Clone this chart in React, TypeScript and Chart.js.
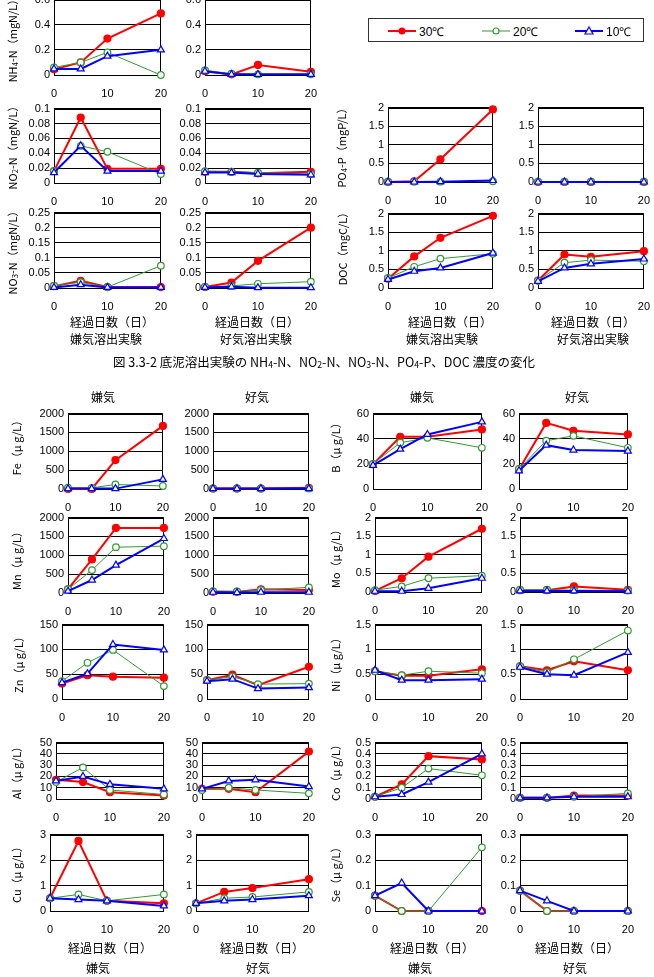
import React, { useEffect, useRef } from "react";
import { Chart, registerables } from "chart.js";

Chart.register(...registerables);

// ---------- data ----------
const days = [0, 5, 10, 20];
const dayTicks = [0, 10, 20];
const seriesNames = ["30℃", "20℃", "10℃"];

// each array: [30℃ series, 20℃ series, 10℃ series]
const nh4Ana = [[0.045, 0.1, 0.29, 0.49], [0.06, 0.1, 0.18, 0.0], [0.048, 0.048, 0.15, 0.2]];
const nh4Aer = [[0.03, 0.005, 0.08, 0.025], [0.038, 0.01, 0.005, 0.005], [0.03, 0.005, 0.005, 0.005]];
const no2Ana = [[0.016, 0.088, 0.019, 0.019], [0.016, 0.05, 0.042, 0.012], [0.014, 0.05, 0.016, 0.016]];
const no2Aer = [[0.015, 0.015, 0.013, 0.015], [0.016, 0.015, 0.014, 0.012], [0.014, 0.014, 0.012, 0.011]];
const no3Ana = [[0.006, 0.024, 0.003, 0.003], [0.008, 0.019, 0.003, 0.074], [0.002, 0.011, 0.002, 0.002]];
const no3Aer = [[0.003, 0.018, 0.09, 0.2], [0.004, 0.007, 0.014, 0.021], [0.002, 0.004, 0.001, 0.001]];
const po4Ana = [[0.0, 0.02, 0.61, 1.95], [0.01, 0.01, 0.01, 0.02], [0.0, 0.0, 0.01, 0.04]];
const po4Aer = [[0.0, 0.0, 0.0, 0.0], [0.01, 0.01, 0.01, 0.01], [0.0, 0.0, 0.0, 0.0]];
const docAna = [[0.25, 0.85, 1.35, 1.94], [0.27, 0.57, 0.79, 0.92], [0.23, 0.45, 0.54, 0.94]];
const docAer = [[0.2, 0.9, 0.84, 0.99], [0.2, 0.68, 0.75, 0.72], [0.18, 0.54, 0.65, 0.78]];

const feAna = [[0, 0, 766, 1674], [35, 30, 120, 80], [10, 10, 10, 255]];
const feAer = [[10, 10, 10, 30], [15, 15, 15, 15], [10, 10, 10, 10]];
const bAna = [[19.6, 41.5, 41.5, 47.4], [20, 36.8, 40.7, 32.8], [18.8, 31.7, 43.4, 53.4]];
const bAer = [[15.6, 52.6, 46.3, 43.4], [16, 38.4, 42.3, 32.8], [14.5, 34.9, 31, 30.2]];
const mnAna = [[100, 890, 1727, 1727], [100, 608, 1216, 1242], [50, 344, 740, 1445]];
const mnAer = [[30, 30, 100, 80], [50, 40, 80, 150], [20, 10, 20, 20]];
const moAna = [[0.03, 0.37, 0.95, 1.7], [0.05, 0.15, 0.37, 0.44], [0.02, 0.02, 0.1, 0.37]];
const moAer = [[0.05, 0.05, 0.15, 0.06], [0.06, 0.06, 0.05, 0.04], [0.03, 0.03, 0.03, 0.02]];
const znAna = [[31, 48, 45, 43], [36, 73, 99, 26], [33, 51, 110, 99]];
const znAer = [[38, 49, 28, 65], [38, 45, 30, 31], [36, 40, 21, 23]];
const niAna = [[0.56, 0.47, 0.47, 0.6], [0.56, 0.48, 0.56, 0.52], [0.58, 0.38, 0.38, 0.4]];
const niAer = [[0.66, 0.58, 0.76, 0.58], [0.66, 0.54, 0.8, 1.38], [0.64, 0.5, 0.48, 0.94]];
const alAna = [[17, 15, 6, 3], [15, 28, 8, 4], [16, 20, 13, 9]];
const alAer = [[9, 9, 6, 42], [8, 10, 8, 5], [9, 16, 17, 11]];
const coAna = [[0.02, 0.13, 0.38, 0.35], [0.02, 0.1, 0.27, 0.21], [0.02, 0.04, 0.15, 0.4]];
const coAer = [[0.01, 0.01, 0.03, 0.03], [0.01, 0.01, 0.02, 0.05], [0.01, 0.01, 0.02, 0.02]];
const cuAna = [[0.5, 2.75, 0.4, 0.3], [0.5, 0.65, 0.4, 0.65], [0.5, 0.45, 0.4, 0.2]];
const cuAer = [[0.3, 0.75, 0.9, 1.25], [0.3, 0.5, 0.55, 0.75], [0.3, 0.4, 0.45, 0.6]];
const seAna = [[0.06, 0, 0, 0], [0.06, 0, 0, 0.25], [0.06, 0.11, 0, 0]];
const seAer = [[0.08, 0, 0, 0], [0.08, 0, 0, 0], [0.08, 0.04, 0, 0]];

// y tick values
const nh4Ticks = [0, 0.2, 0.4, 0.6];
const no2Ticks = [0, 0.02, 0.04, 0.06, 0.08, 0.1];
const no3Ticks = [0, 0.05, 0.1, 0.15, 0.2, 0.25];
const po4Ticks = [0, 0.5, 1, 1.5, 2];
const docTicks = [0, 0.5, 1, 1.5, 2];
const feTicks = [0, 500, 1000, 1500, 2000];
const bTicks = [0, 20, 40, 60];
const mnTicks = [0, 500, 1000, 1500, 2000];
const moTicks = [0, 0.5, 1, 1.5, 2];
const znTicks = [0, 50, 100, 150];
const niTicks = [0, 0.5, 1, 1.5];
const alTicks = [0, 10, 20, 30, 40, 50];
const coTicks = [0, 0.1, 0.2, 0.3, 0.4, 0.5];
const cuTicks = [0, 1, 2, 3];
const seTicks = [0, 0.1, 0.2, 0.3];

// ---------- layout (plot-area rectangles: left, top, right, bottom) ----------
const panels = [
  { d: nh4Ana, t: nh4Ticks, r: [54, -1, 165, 75] },
  { d: nh4Aer, t: nh4Ticks, r: [205, -1, 315, 75] },
  { d: no2Ana, t: no2Ticks, r: [54, 108, 165, 183] },
  { d: no2Aer, t: no2Ticks, r: [205, 108, 315, 183] },
  { d: po4Ana, t: po4Ticks, r: [388, 107, 497, 182] },
  { d: po4Aer, t: po4Ticks, r: [538, 107, 648, 182] },
  { d: no3Ana, t: no3Ticks, r: [54, 212, 165, 288] },
  { d: no3Aer, t: no3Ticks, r: [205, 212, 315, 288] },
  { d: docAna, t: docTicks, r: [388, 213, 497, 288] },
  { d: docAer, t: docTicks, r: [538, 213, 648, 288] },

  { d: feAna, t: feTicks, r: [68, 413, 167, 489] },
  { d: feAer, t: feTicks, r: [213, 413, 313, 489] },
  { d: bAna, t: bTicks, r: [373, 413, 486, 489] },
  { d: bAer, t: bTicks, r: [519, 413, 632, 489] },
  { d: mnAna, t: mnTicks, r: [68, 517, 168, 593] },
  { d: mnAer, t: mnTicks, r: [213, 517, 313, 593] },
  { d: moAna, t: moTicks, r: [375, 517, 486, 592] },
  { d: moAer, t: moTicks, r: [520, 517, 632, 592] },
  { d: znAna, t: znTicks, r: [62, 624, 168, 699] },
  { d: znAer, t: znTicks, r: [207, 624, 313, 699] },
  { d: niAna, t: niTicks, r: [375, 624, 486, 699] },
  { d: niAer, t: niTicks, r: [520, 624, 632, 699] },
  { d: alAna, t: alTicks, r: [56, 742, 168, 799] },
  { d: alAer, t: alTicks, r: [202, 742, 313, 799] },
  { d: coAna, t: coTicks, r: [375, 742, 486, 799] },
  { d: coAer, t: coTicks, r: [520, 742, 632, 799] },
  { d: cuAna, t: cuTicks, r: [50, 834, 168, 911] },
  { d: cuAer, t: cuTicks, r: [196, 834, 313, 911] },
  { d: seAna, t: seTicks, r: [375, 834, 486, 911] },
  { d: seAer, t: seTicks, r: [520, 834, 632, 911] },
];

const PADL = 50;
const PADT = 10;
const PADR = 14;
const PADB = 32;

const RED = "#ff0000";
const GREEN = "#339933";
const BLUE = "#0000ff";
const TICK_FONT = { family: "'Liberation Sans', Arial, sans-serif", size: 11 };
const JP = "'Noto Sans CJK JP', 'Noto Sans', sans-serif";

const styles = [
  { color: RED, width: 2, fill: RED, point: "circle", radius: 3.5, order: 2 },
  { color: GREEN, width: 1, fill: "#ffffff", point: "circle", radius: 3.3, order: 1 },
  { color: BLUE, width: 2, fill: "#ffffff", point: "triangle", radius: 4, order: 0 },
];

const borderPlugin = {
  id: "plotBorder",
  beforeDatasetsDraw(chart: any) {
    const { ctx, chartArea } = chart;
    ctx.save();
    ctx.strokeStyle = "#000";
    ctx.lineWidth = 1;
    ctx.strokeRect(
      Math.round(chartArea.left) + 0.5,
      Math.round(chartArea.top) + 0.5,
      Math.round(chartArea.right - chartArea.left) - 1,
      Math.round(chartArea.bottom - chartArea.top)
    );
    ctx.restore();
  },
};

function Panel({ d, t, r }: { d: number[][]; t: number[]; r: number[] }) {
  const ref = useRef<HTMLCanvasElement | null>(null);
  const [l, top, right, bottom] = r;
  const w = right - l + PADL + PADR;
  const h = bottom - top + PADT + PADB;
  useEffect(() => {
    if (!ref.current) return;
    const chart = new Chart(ref.current, {
      type: "line",
      data: {
        datasets: d.map((vals, i) => ({
          label: seriesNames[i],
          data: vals.map((v, j) => ({ x: days[j], y: v })),
          borderColor: styles[i].color,
          borderWidth: styles[i].width,
          pointStyle: styles[i].point,
          pointRadius: styles[i].radius,
          pointBackgroundColor: styles[i].fill,
          pointBorderColor: styles[i].color,
          pointBorderWidth: 1.2,
          tension: 0,
          clip: false,
          order: styles[i].order,
        })),
      },
      options: {
        animation: false,
        responsive: false,
        devicePixelRatio: 1,
        layout: { padding: { left: 0, top: PADT, right: PADR, bottom: 0 } },
        plugins: { legend: { display: false }, tooltip: { enabled: false } },
        scales: {
          x: {
            type: "linear",
            min: 0,
            max: 20,
            afterBuildTicks: (s: any) => {
              s.ticks = dayTicks.map((v) => ({ value: v }));
            },
            afterFit: (s: any) => {
              s.height = PADB;
            },
            grid: { display: false, drawTicks: false },
            border: { display: false },
            ticks: {
              padding: 12,
              color: "#000",
              font: TICK_FONT,
              maxRotation: 0,
              autoSkip: false,
              callback: (v: any) => String(v),
            },
          },
          y: {
            type: "linear",
            min: t[0],
            max: t[t.length - 1],
            afterBuildTicks: (s: any) => {
              s.ticks = t.map((v) => ({ value: v }));
            },
            afterFit: (s: any) => {
              s.width = PADL;
            },
            grid: { color: "#000", lineWidth: 1, drawTicks: false },
            border: { display: false },
            ticks: {
              padding: 4,
              color: "#000",
              font: TICK_FONT,
              autoSkip: false,
              callback: (v: any) => String(v),
            },
          },
        },
      },
      plugins: [borderPlugin],
    } as any);
    return () => chart.destroy();
  }, []);
  return (
    <canvas
      ref={ref}
      width={w}
      height={h}
      style={{ position: "absolute", left: l - PADL, top: top - PADT, width: w, height: h }}
    />
  );
}

function Txt({ x, y, size = 11, rot = false, children }: any) {
  return (
    <div
      style={{
        position: "absolute",
        left: x,
        top: y,
        transform: `translate(-50%, -50%)${rot ? " rotate(-90deg)" : ""}`,
        whiteSpace: "nowrap",
        fontFamily: JP,
        fontSize: size,
        color: "#000",
        lineHeight: 1,
      }}
    >
      {children}
    </div>
  );
}

const subS = { fontSize: "0.7em", verticalAlign: "-0.15em" } as any;

function LegendItem({ x, color, width, kind, label }: any) {
  return (
    <div style={{ position: "absolute", left: x, top: 0, height: 24, display: "flex", alignItems: "center" }}>
      <svg width={28} height={12} style={{ display: "block" }}>
        <line x1={0} y1={6} x2={28} y2={6} stroke={color} strokeWidth={width} />
        {kind === "fill" && <circle cx={14} cy={6} r={3.5} fill={color} />}
        {kind === "circle" && <circle cx={14} cy={6} r={3} fill="#fff" stroke={color} strokeWidth={1.2} />}
        {kind === "tri" && <polygon points="14,2 18,9 10,9" fill="#fff" stroke={color} strokeWidth={1.2} />}
      </svg>
      <span style={{ marginLeft: 3, fontFamily: TICK_FONT.family, fontSize: 12, color: "#000" }}>{label}</span>
    </div>
  );
}

export default function App() {
  return (
    <div style={{ position: "absolute", left: 0, top: 0, width: 654, height: 977, overflow: "hidden", background: "#fff" }}>
      {panels.map((p, i) => (
        <Panel key={i} d={p.d} t={p.t} r={p.r} />
      ))}

      {/* legend */}
      <div style={{ position: "absolute", left: 368, top: 18, width: 276, height: 24, border: "1px solid #333", boxSizing: "border-box" }}>
        <LegendItem x={19} color={RED} width={2} kind="fill" label={seriesNames[0]} />
        <LegendItem x={113} color={GREEN} width={1} kind="circle" label={seriesNames[1]} />
        <LegendItem x={206} color={BLUE} width={2} kind="tri" label={seriesNames[2]} />
      </div>

      {/* top figure y titles */}
      <Txt x={13} y={38} rot>NH<span style={subS}>4</span>-N（mgN/L）</Txt>
      <Txt x={13} y={145} rot>NO<span style={subS}>2</span>-N（mgN/L）</Txt>
      <Txt x={13} y={250} rot>NO<span style={subS}>3</span>-N（mgN/L）</Txt>
      <Txt x={342} y={145} rot>PO<span style={subS}>4</span>-P（mgP/L）</Txt>
      <Txt x={342} y={246} rot>DOC（mgC/L）</Txt>

      {/* top figure x titles */}
      <Txt x={112} y={322} size={12}>経過日数（日）</Txt>
      <Txt x={257} y={322} size={12}>経過日数（日）</Txt>
      <Txt x={450} y={322} size={12}>経過日数（日）</Txt>
      <Txt x={593} y={322} size={12}>経過日数（日）</Txt>
      <Txt x={106} y={339} size={12}>嫌気溶出実験</Txt>
      <Txt x={256} y={339} size={12}>好気溶出実験</Txt>
      <Txt x={442} y={339} size={12}>嫌気溶出実験</Txt>
      <Txt x={593} y={339} size={12}>好気溶出実験</Txt>

      {/* caption */}
      <Txt x={324} y={363} size={12.5}>
        図 3.3-2 底泥溶出実験の NH<span style={subS}>4</span>-N、NO<span style={subS}>2</span>-N、NO<span style={subS}>3</span>-N、PO<span style={subS}>4</span>-P、DOC 濃度の変化
      </Txt>

      {/* bottom figure titles */}
      <Txt x={103} y={397} size={12}>嫌気</Txt>
      <Txt x={257} y={397} size={12}>好気</Txt>
      <Txt x={422} y={397} size={12}>嫌気</Txt>
      <Txt x={577} y={397} size={12}>好気</Txt>

      {/* bottom figure y titles */}
      <Txt x={16} y={445} rot>Fe（μ g/L）</Txt>
      <Txt x={16} y={558} rot>Mn（μ g/L）</Txt>
      <Txt x={18} y={662} rot>Zn（μ g/L）</Txt>
      <Txt x={16} y={770} rot>Al（μ g/L）</Txt>
      <Txt x={16} y={872} rot>Cu（μ g/L）</Txt>
      <Txt x={335} y={445} rot>B（μ g/L）</Txt>
      <Txt x={335} y={556} rot>Mo（μ g/L）</Txt>
      <Txt x={335} y={662} rot>Ni（μ g/L）</Txt>
      <Txt x={335} y={770} rot>Co（μ g/L）</Txt>
      <Txt x={335} y={872} rot>Se（μ g/L）</Txt>

      {/* bottom x titles */}
      <Txt x={110} y={948} size={12}>経過日数（日）</Txt>
      <Txt x={262} y={948} size={12}>経過日数（日）</Txt>
      <Txt x={432} y={948} size={12}>経過日数（日）</Txt>
      <Txt x={577} y={948} size={12}>経過日数（日）</Txt>
      <Txt x={98} y={968} size={12}>嫌気</Txt>
      <Txt x={258} y={968} size={12}>好気</Txt>
      <Txt x={420} y={968} size={12}>嫌気</Txt>
      <Txt x={575} y={968} size={12}>好気</Txt>
    </div>
  );
}
